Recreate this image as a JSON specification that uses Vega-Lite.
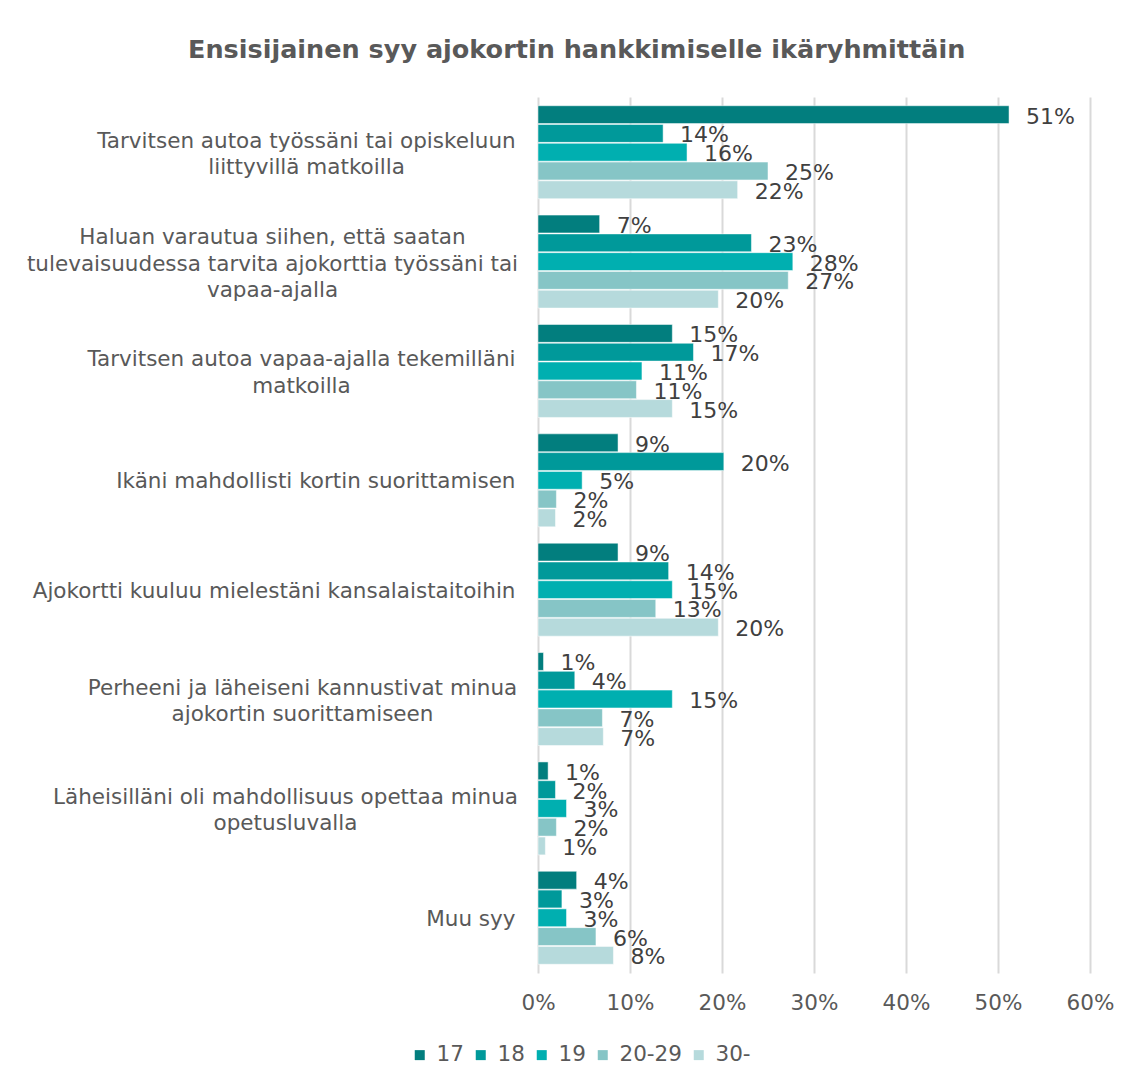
{
  "$schema": "https://vega.github.io/schema/vega-lite/v6.json",
  "width": 552,
  "height": 876,
  "autosize": {"type": "none"},
  "padding": {"left": 538, "top": 97, "right": 43, "bottom": 108},
  "background": "white",
  "title": {
    "text": "Ensisijainen syy ajokortin hankkimiselle ikäryhmittäin",
    "anchor": "start",
    "frame": "group",
    "dx": -350,
    "offset": 34,
    "font": "DejaVu Sans",
    "fontSize": 25.5,
    "fontWeight": "bold",
    "color": "#595959"
  },
  "data": {
    "values": [
      {"syy": "Tarvitsen autoa työssäni tai opiskeluun|liittyvillä matkoilla", "ika": "17", "o": 1, "v": 0.512},
      {"syy": "Tarvitsen autoa työssäni tai opiskeluun|liittyvillä matkoilla", "ika": "18", "o": 2, "v": 0.136},
      {"syy": "Tarvitsen autoa työssäni tai opiskeluun|liittyvillä matkoilla", "ika": "19", "o": 3, "v": 0.162},
      {"syy": "Tarvitsen autoa työssäni tai opiskeluun|liittyvillä matkoilla", "ika": "20-29", "o": 4, "v": 0.25},
      {"syy": "Tarvitsen autoa työssäni tai opiskeluun|liittyvillä matkoilla", "ika": "30-", "o": 5, "v": 0.217},
      {"syy": "Haluan varautua siihen, että saatan|tulevaisuudessa tarvita ajokorttia työssäni tai|vapaa-ajalla", "ika": "17", "o": 1, "v": 0.067},
      {"syy": "Haluan varautua siihen, että saatan|tulevaisuudessa tarvita ajokorttia työssäni tai|vapaa-ajalla", "ika": "18", "o": 2, "v": 0.232},
      {"syy": "Haluan varautua siihen, että saatan|tulevaisuudessa tarvita ajokorttia työssäni tai|vapaa-ajalla", "ika": "19", "o": 3, "v": 0.277},
      {"syy": "Haluan varautua siihen, että saatan|tulevaisuudessa tarvita ajokorttia työssäni tai|vapaa-ajalla", "ika": "20-29", "o": 4, "v": 0.272},
      {"syy": "Haluan varautua siihen, että saatan|tulevaisuudessa tarvita ajokorttia työssäni tai|vapaa-ajalla", "ika": "30-", "o": 5, "v": 0.196},
      {"syy": "Tarvitsen autoa vapaa-ajalla tekemilläni|matkoilla", "ika": "17", "o": 1, "v": 0.146},
      {"syy": "Tarvitsen autoa vapaa-ajalla tekemilläni|matkoilla", "ika": "18", "o": 2, "v": 0.169},
      {"syy": "Tarvitsen autoa vapaa-ajalla tekemilläni|matkoilla", "ika": "19", "o": 3, "v": 0.113},
      {"syy": "Tarvitsen autoa vapaa-ajalla tekemilläni|matkoilla", "ika": "20-29", "o": 4, "v": 0.107},
      {"syy": "Tarvitsen autoa vapaa-ajalla tekemilläni|matkoilla", "ika": "30-", "o": 5, "v": 0.146},
      {"syy": "Ikäni mahdollisti kortin suorittamisen", "ika": "17", "o": 1, "v": 0.087},
      {"syy": "Ikäni mahdollisti kortin suorittamisen", "ika": "18", "o": 2, "v": 0.202},
      {"syy": "Ikäni mahdollisti kortin suorittamisen", "ika": "19", "o": 3, "v": 0.048},
      {"syy": "Ikäni mahdollisti kortin suorittamisen", "ika": "20-29", "o": 4, "v": 0.02},
      {"syy": "Ikäni mahdollisti kortin suorittamisen", "ika": "30-", "o": 5, "v": 0.019},
      {"syy": "Ajokortti kuuluu mielestäni kansalaistaitoihin", "ika": "17", "o": 1, "v": 0.087},
      {"syy": "Ajokortti kuuluu mielestäni kansalaistaitoihin", "ika": "18", "o": 2, "v": 0.142},
      {"syy": "Ajokortti kuuluu mielestäni kansalaistaitoihin", "ika": "19", "o": 3, "v": 0.146},
      {"syy": "Ajokortti kuuluu mielestäni kansalaistaitoihin", "ika": "20-29", "o": 4, "v": 0.128},
      {"syy": "Ajokortti kuuluu mielestäni kansalaistaitoihin", "ika": "30-", "o": 5, "v": 0.196},
      {"syy": "Perheeni ja läheiseni kannustivat minua|ajokortin suorittamiseen", "ika": "17", "o": 1, "v": 0.006},
      {"syy": "Perheeni ja läheiseni kannustivat minua|ajokortin suorittamiseen", "ika": "18", "o": 2, "v": 0.04},
      {"syy": "Perheeni ja läheiseni kannustivat minua|ajokortin suorittamiseen", "ika": "19", "o": 3, "v": 0.146},
      {"syy": "Perheeni ja läheiseni kannustivat minua|ajokortin suorittamiseen", "ika": "20-29", "o": 4, "v": 0.07},
      {"syy": "Perheeni ja läheiseni kannustivat minua|ajokortin suorittamiseen", "ika": "30-", "o": 5, "v": 0.071},
      {"syy": "Läheisilläni oli mahdollisuus opettaa minua|opetusluvalla", "ika": "17", "o": 1, "v": 0.011},
      {"syy": "Läheisilläni oli mahdollisuus opettaa minua|opetusluvalla", "ika": "18", "o": 2, "v": 0.019},
      {"syy": "Läheisilläni oli mahdollisuus opettaa minua|opetusluvalla", "ika": "19", "o": 3, "v": 0.031},
      {"syy": "Läheisilläni oli mahdollisuus opettaa minua|opetusluvalla", "ika": "20-29", "o": 4, "v": 0.02},
      {"syy": "Läheisilläni oli mahdollisuus opettaa minua|opetusluvalla", "ika": "30-", "o": 5, "v": 0.008},
      {"syy": "Muu syy", "ika": "17", "o": 1, "v": 0.042},
      {"syy": "Muu syy", "ika": "18", "o": 2, "v": 0.026},
      {"syy": "Muu syy", "ika": "19", "o": 3, "v": 0.031},
      {"syy": "Muu syy", "ika": "20-29", "o": 4, "v": 0.063},
      {"syy": "Muu syy", "ika": "30-", "o": 5, "v": 0.082}
    ]
  },
  "encoding": {
    "y": {
      "field": "syy",
      "type": "nominal",
      "sort": null,
      "scale": {"paddingInner": 0.15, "paddingOuter": 0.08},
      "axis": {
        "title": null,
        "domain": false,
        "ticks": false,
        "labelExpr": "split(datum.label, '|')",
        "labelFont": "DejaVu Sans",
        "labelFontSize": 21.5,
        "labelColor": "#595959",
        "labelLineHeight": 26.5,
        "labelLimit": 700,
        "labelAlign": {
          "condition": {"test": "indexof(datum.value, '|') >= 0", "value": "center"},
          "value": "right"
        },
        "labelPadding": {
          "condition": [
            {"test": "indexof(datum.value, 'opiskeluun') >= 0", "value": 232},
            {"test": "indexof(datum.value, 'Haluan') >= 0", "value": 266},
            {"test": "indexof(datum.value, 'tekemilläni') >= 0", "value": 237},
            {"test": "indexof(datum.value, 'Perheeni') >= 0", "value": 236},
            {"test": "indexof(datum.value, 'Läheisilläni') >= 0", "value": 253}
          ],
          "value": 23
        },
        "labelOffset": {
          "condition": [
            {"test": "length(split(datum.value, '|')) == 3", "value": -23.5},
            {"test": "length(split(datum.value, '|')) == 2", "value": -10.5}
          ],
          "value": 2
        }
      }
    },
    "yOffset": {"field": "o", "type": "ordinal", "scale": {"paddingInner": 0.05}},
    "x": {
      "field": "v",
      "type": "quantitative",
      "scale": {"domain": [0, 0.6]},
      "axis": {
        "title": null,
        "format": ".0%",
        "values": [0, 0.1, 0.2, 0.3, 0.4, 0.5, 0.6],
        "labelOverlap": false,
        "labelFlush": false,
        "domain": false,
        "ticks": false,
        "grid": true,
        "gridColor": "#d9d9d9",
        "gridWidth": 2,
        "labelFont": "DejaVu Sans",
        "labelFontSize": 21.5,
        "labelColor": "#595959",
        "labelPadding": 19
      }
    }
  },
  "layer": [
    {
      "mark": {"type": "bar", "stroke": "white", "strokeWidth": 0.5},
      "encoding": {
        "color": {
          "field": "ika",
          "type": "nominal",
          "sort": ["17", "18", "19", "20-29", "30-"],
          "scale": {
            "domain": ["17", "18", "19", "20-29", "30-"],
            "range": ["#027e7e", "#00999a", "#00afb0", "#86c5c6", "#b6dadc"]
          },
          "legend": {
            "title": null,
            "orient": "none",
            "direction": "horizontal",
            "legendX": -129,
            "legendY": 947,
            "symbolType": "square",
            "symbolSize": 100,
            "symbolStrokeWidth": 0,
            "labelFont": "DejaVu Sans",
            "labelFontSize": 21.5,
            "labelColor": "#595959",
            "labelOffset": 6,
            "columnPadding": 6
          }
        }
      }
    },
    {
      "mark": {
        "type": "text",
        "align": "left",
        "baseline": "middle",
        "dx": 17,
        "dy": 2,
        "font": "DejaVu Sans",
        "fontSize": 22,
        "color": "#404040"
      },
      "encoding": {
        "text": {"field": "v", "type": "quantitative", "format": ".0%"}
      }
    }
  ],
  "config": {
    "view": {"stroke": null}
  }
}
